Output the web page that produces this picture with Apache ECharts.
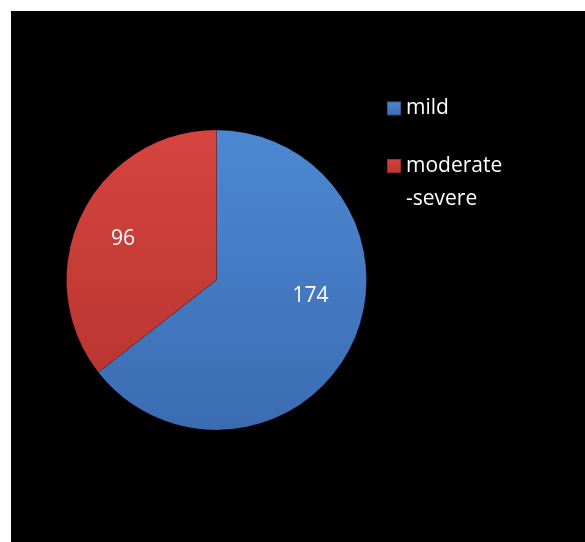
<!DOCTYPE html>
<html>
<head>
<meta charset="utf-8">
<script src="https://cdn.jsdelivr.net/npm/echarts@6/dist/echarts.min.js"></script>
<style>
html,body{margin:0;padding:0;background:#fff;}
#wrap{position:absolute;left:11px;top:11px;width:574px;height:531px;background:#000;}
#c{width:574px;height:531px;}
</style>
</head>
<body>
<div id="wrap"><div id="c"></div></div>
<script>
const categories = ['mild', 'moderate-severe'];
const values = [174, 96];
const colorsTop = ['#4d88d2', '#d6443f'];
const colorsBottom = ['#3b6cb2', '#bb3631'];

const chart = echarts.init(document.getElementById('c'), null, {renderer: 'canvas'});
const font = '"Open Sans", "Noto Sans", sans-serif';
const labelShift = [[24, -18], [-23.5, -7]];

chart.setOption({
  backgroundColor: '#000',
  animation: false,
  legend: [
    {
      data: [categories[0]],
      left: 370, top: 82,
      orient: 'vertical',
      icon: 'rect', itemWidth: 14, itemHeight: 14, itemGap: 6,
      textStyle: {color: '#fff', fontSize: 21, fontFamily: font}
    },
    {
      data: [categories[1]],
      left: 370, top: 100.5,
      orient: 'vertical',
      icon: 'rect', itemWidth: 14, itemHeight: 14, itemGap: 6,
      formatter: n => '\n' + n.replace('-', '\n-'),
      textStyle: {color: '#fff', fontSize: 21, fontFamily: font, lineHeight: 33}
    }
  ],
  series: [{
    type: 'pie',
    center: [205.5, 269],
    radius: 150,
    startAngle: 90,
    clockwise: true,
    label: {
      show: true, position: 'inside', formatter: '{c}',
      color: '#fff', fontSize: 21, fontFamily: font
    },
    labelLine: {show: false},
    labelLayout: p => ({dx: labelShift[p.dataIndex][0], dy: labelShift[p.dataIndex][1]}),
    itemStyle: {borderColor: 'rgba(0,0,0,0.25)', borderWidth: 0.5},
    emphasis: {disabled: true},
    data: categories.map((n, i) => ({
      name: n, value: values[i],
      itemStyle: {
        color: new echarts.graphic.LinearGradient(0, 0, 0, 1, [
          {offset: 0, color: colorsTop[i]},
          {offset: 1, color: colorsBottom[i]}
        ])
      }
    }))
  }]
});
</script>
</body>
</html>
